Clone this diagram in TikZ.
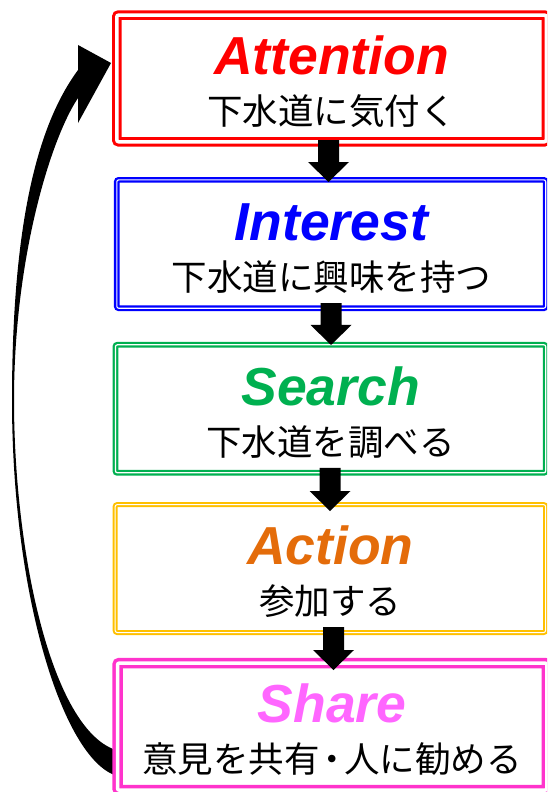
\documentclass[tikz,border=0pt]{standalone}
\usepackage{fontspec}
\setmainfont{Liberation Sans}
\newfontfamily\jpfont{Noto Sans CJK JP}
\usetikzlibrary{calc}
\definecolor{cAtt}{HTML}{FF0000}
\definecolor{cInt}{HTML}{0000FF}
\definecolor{cSea}{HTML}{00B050}
\definecolor{cActT}{HTML}{E46C0A}
\definecolor{cActB}{HTML}{FFC000}
\definecolor{cShaT}{HTML}{FF66FF}
\definecolor{cShaB}{HTML}{FF33CC}
\newcommand\blkarrow[2]{\fill[black] ($(#1)+(-10.5,0)$) -- ($(#2)+(-10.5,-20)$) -- ($(#2)+(-20.5,-20)$) -- (#2) -- ($(#2)+(20.5,-20)$) -- ($(#2)+(10.5,-20)$) -- ($(#1)+(10.5,0)$) -- cycle;}
\newcommand\pdot{\kern-5.5pt・\kern-5.5pt}
\tikzset{
  box/.style={draw, double=white, fill=white, rounded corners=2pt, inner sep=0pt, outer sep=0pt},
  ttl/.style={anchor=base, inner sep=0pt, font=\fontsize{53.5}{60}\selectfont\bfseries\itshape},
  sub/.style={anchor=base, inner sep=0pt, font=\jpfont\fontsize{35.5}{40}\selectfont},
}
\begin{document}
\begin{tikzpicture}[x=1pt,y=-1pt]
\useasboundingbox (0,0) rectangle (547,792);
\clip (0,0) rectangle (547,792);
% big return arrow
\fill[black] (125,777) .. controls (70,777) and (12,610) .. (12,400)
  .. controls (12,200) and (45,115) .. (78,70)
  -- (78,45) -- (111,63) -- (78,123) -- (78,98)
  .. controls (50,140) and (14,260) .. (14,400)
  .. controls (14,560) and (55,745) .. (125,752) -- cycle;
% boxes
\node[box, draw=cAtt, line width=3pt, double distance=3.5pt, minimum width=429.5pt, minimum height=126.75pt] (att) at (331.5,78.4) {};
\node[box, draw=cInt, line width=2.3pt, double distance=1.1pt, minimum width=428.9pt, minimum height=128.4pt] (int) at (331.25,244.05) {};
\node[box, draw=cSea, line width=2.3pt, double distance=1.2pt, minimum width=430.3pt, minimum height=128.05pt] (sea) at (330.6,408.8) {};
\node[box, draw=cActB, line width=2pt, double distance=1pt, minimum width=430.4pt, minimum height=127.9pt] (act) at (330.4,568.55) {};
\node[box, draw=cShaB, line width=3.5pt, double distance=3.5pt, minimum width=429.3pt, minimum height=127.2pt] (sha) at (332.15,726.6) {};
% texts
\node[ttl, text=cAtt] (attT) at ($(att.center)+(0,-3.7)$) {Attention};
\node[sub] (attS) at ($(att.center)+(0,46.3)$) {下水道に気付く};
\node[ttl, text=cInt] (intT) at ($(int.center)+(0,-3.7)$) {Interest};
\node[sub] (intS) at ($(int.center)+(0,46.3)$) {下水道に興味を持つ};
\node[ttl, text=cSea] (seaT) at ($(sea.center)+(0,-3.7)$) {Search};
\node[sub] (seaS) at ($(sea.center)+(0,46.3)$) {下水道を調べる};
\node[ttl, text=cActT] (actT) at ($(act.center)+(0,-3.7)$) {Action};
\node[sub] (actS) at ($(act.center)+(0,46.3)$) {参加する};
\node[ttl, text=cShaT] (shaT) at ($(sha.center)+(0,-3.7)$) {Share};
\node[sub] (shaS) at ($(sha.center)+(0,46.3)$) {意見を共有\pdot 人に勧める};
% down arrows
\coordinate (a1s) at ($(att.south)+(-3,-1.75)$);
\coordinate (a1e) at ($(int.north)+(-2.75,2.15)$);
\coordinate (a2s) at ($(int.south)+(-0.25,-5.25)$);
\coordinate (a2e) at ($(sea.north)+(0.4,0.2)$);
\coordinate (a3s) at ($(sea.south)+(-0.6,-4.85)$);
\coordinate (a3e) at ($(act.north)+(-0.4,6.4)$);
\coordinate (a4s) at ($(act.south)+(3.1,-5.5)$);
\coordinate (a4e) at ($(sha.north)+(1.35,7)$);
\blkarrow{a1s}{a1e}
\blkarrow{a2s}{a2e}
\blkarrow{a3s}{a3e}
\blkarrow{a4s}{a4e}
\end{tikzpicture}
\end{document}
